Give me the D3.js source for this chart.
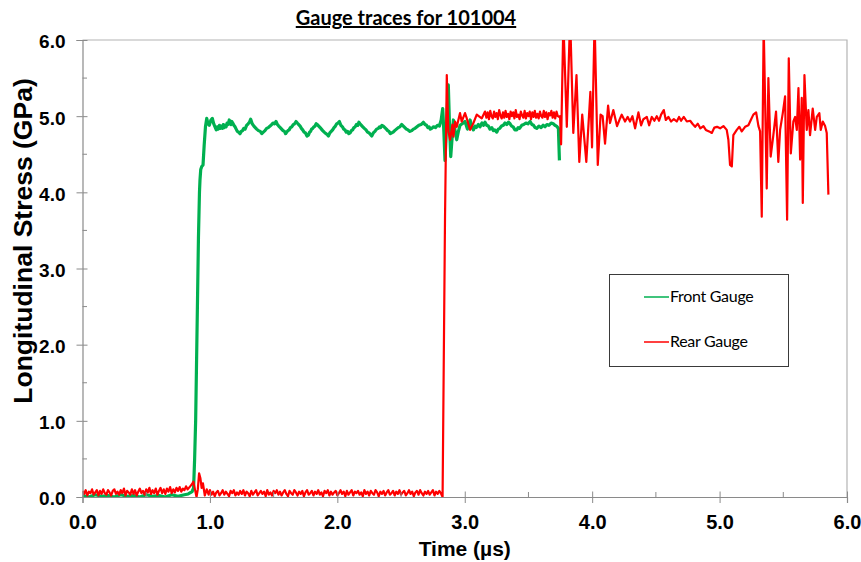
<!DOCTYPE html>
<html>
<head>
<meta charset="utf-8">
<script src="https://cdn.jsdelivr.net/npm/d3@7"></script>
<style>
  body { margin: 0; background: #ffffff; }
</style>
</head>
<body>
<svg id="chart" width="861" height="562"></svg>
<script>
// Axis ticks (GPa and microseconds)
const xTicks = [0, 1, 2, 3, 4, 5, 6];
const yTicks = [0, 1, 2, 3, 4, 5, 6];
const xMinorTicks = [0.5, 1.5, 2.5, 3.5, 4.5, 5.5];
const yMinorTicks = [0.5, 1.5, 2.5, 3.5, 4.5, 5.5];

const seriesNames = ["Front Gauge", "Rear Gauge"];
const seriesColors = ["#00b050", "#ff0000"];

// Front gauge: [time (µs), longitudinal stress (GPa)]
const frontGauge = [
  [0.00,0.02],[0.05,0.00],[0.10,0.03],[0.15,0.01],[0.20,0.02],[0.25,0.00],[0.30,0.03],[0.35,0.01],
  [0.40,0.02],[0.45,0.00],[0.50,0.03],[0.55,0.01],[0.60,0.02],[0.65,0.00],[0.70,0.03],[0.75,0.01],
  [0.80,0.03],[0.83,0.04],[0.86,0.07],[0.872,0.12],[0.880,0.50],[0.888,1.00],[0.900,2.30],[0.910,3.40],
  [0.918,4.00],[0.922,4.16],[0.928,4.30],[0.936,4.34],[0.946,4.36],[0.955,4.62],[0.965,4.86],[0.975,4.97],
  [0.985,4.90],[0.995,4.88],[1.008,4.95],[1.019,4.97],[1.030,4.90],[1.040,4.86],[1.050,4.82],[1.058,4.86],
  [1.066,4.83],[1.075,4.88],[1.084,4.84],[1.092,4.87],[1.100,4.84],[1.105,4.89],[1.112,4.85],[1.119,4.88],
  [1.127,4.86],[1.135,4.91],[1.143,4.89],[1.152,4.95],[1.158,4.91],[1.165,4.89],[1.172,4.93],[1.179,4.91],
  [1.188,4.88],[1.197,4.86],[1.206,4.83],[1.215,4.80],[1.225,4.79],[1.236,4.77],[1.246,4.80],[1.256,4.81],
  [1.266,4.84],[1.276,4.83],[1.288,4.88],[1.300,4.90],[1.310,4.92],[1.320,4.96],[1.332,4.90],[1.345,4.87],
  [1.356,4.85],[1.367,4.83],[1.381,4.81],[1.395,4.80],[1.407,4.77],[1.419,4.79],[1.432,4.81],[1.445,4.84],
  [1.458,4.85],[1.472,4.87],[1.484,4.89],[1.495,4.91],[1.507,4.90],[1.519,4.93],[1.530,4.89],[1.540,4.87],
  [1.552,4.85],[1.563,4.83],[1.574,4.81],[1.585,4.80],[1.594,4.77],[1.603,4.79],[1.612,4.81],[1.622,4.82],
  [1.632,4.85],[1.642,4.86],[1.654,4.89],[1.665,4.90],[1.676,4.93],[1.686,4.91],[1.697,4.89],[1.708,4.87],
  [1.718,4.84],[1.728,4.82],[1.739,4.79],[1.750,4.78],[1.762,4.74],[1.773,4.75],[1.782,4.79],[1.790,4.80],
  [1.798,4.83],[1.807,4.84],[1.816,4.86],[1.825,4.87],[1.834,4.90],[1.843,4.89],[1.854,4.87],[1.865,4.85],
  [1.875,4.83],[1.885,4.81],[1.897,4.79],[1.910,4.77],[1.920,4.76],[1.930,4.74],[1.941,4.78],[1.952,4.80],
  [1.963,4.82],[1.974,4.85],[1.985,4.87],[1.995,4.90],[2.005,4.91],[2.016,4.93],[2.028,4.88],[2.040,4.86],
  [2.050,4.83],[2.060,4.82],[2.070,4.79],[2.080,4.80],[2.090,4.77],[2.100,4.78],[2.110,4.81],[2.120,4.82],
  [2.130,4.85],[2.140,4.86],[2.150,4.89],[2.160,4.88],[2.169,4.92],[2.178,4.90],[2.189,4.88],[2.200,4.86],
  [2.212,4.84],[2.225,4.82],[2.237,4.79],[2.250,4.78],[2.260,4.76],[2.270,4.74],[2.282,4.78],[2.295,4.80],
  [2.308,4.83],[2.322,4.84],[2.331,4.86],[2.340,4.85],[2.350,4.88],[2.361,4.87],[2.373,4.85],[2.385,4.83],
  [2.395,4.81],[2.405,4.80],[2.416,4.77],[2.427,4.78],[2.438,4.79],[2.450,4.81],[2.464,4.83],[2.478,4.85],
  [2.491,4.86],[2.505,4.89],[2.518,4.87],[2.530,4.85],[2.542,4.83],[2.555,4.82],[2.570,4.80],[2.584,4.81],
  [2.597,4.83],[2.610,4.84],[2.625,4.86],[2.640,4.88],[2.657,4.89],[2.675,4.92],[2.688,4.89],[2.700,4.88],
  [2.710,4.85],[2.720,4.86],[2.730,4.83],[2.741,4.84],[2.755,4.86],[2.770,4.85],[2.786,4.88],[2.801,4.87],
  [2.815,4.95],[2.827,5.10],[2.836,4.80],[2.845,4.42],[2.858,4.90],[2.871,5.41],[2.880,4.90],[2.890,4.47],
  [2.911,4.95],[2.925,4.80],[2.937,4.69],[2.950,4.80],[2.963,4.88],[2.980,4.90],[3.002,4.93],[3.021,4.83],
  [3.042,4.95],[3.055,4.86],[3.068,4.82],[3.080,4.87],[3.090,4.85],[3.107,4.89],[3.120,4.86],[3.135,4.91],
  [3.147,4.88],[3.159,4.92],[3.172,4.88],[3.185,4.87],[3.198,4.83],[3.212,4.85],[3.224,4.81],[3.235,4.82],
  [3.251,4.79],[3.263,4.83],[3.275,4.84],[3.289,4.87],[3.303,4.88],[3.316,4.91],[3.330,4.89],[3.343,4.92],
  [3.356,4.90],[3.368,4.87],[3.380,4.86],[3.394,4.82],[3.408,4.82],[3.419,4.85],[3.430,4.84],[3.447,4.88],
  [3.463,4.89],[3.480,4.91],[3.496,4.90],[3.513,4.93],[3.527,4.89],[3.540,4.88],[3.552,4.85],[3.565,4.84],
  [3.582,4.87],[3.600,4.85],[3.615,4.88],[3.630,4.86],[3.645,4.89],[3.660,4.88],[3.678,4.91],[3.695,4.90],
  [3.708,4.88],[3.720,4.87],[3.735,4.84],[3.743,4.42]
];

// Rear gauge, regularly sampled noisy stretches (values in GPa)
const rearSampleStep = 0.0125;
const rearPreShot = [ // from 0.000 µs
  0.08,0.04,0.09,0.02,0.07,0.05,0.10,0.03,0.06,0.09,0.02,0.08,0.04,0.10,0.05,0.03,0.09,0.06,0.02,0.08,
  0.10,0.04,0.07,0.03,0.09,0.05,0.11,0.02,0.08,0.06,0.03,0.10,0.04,0.09,0.02,0.07,0.11,0.05,0.08,0.03,
  0.10,0.06,0.12,0.04,0.09,0.05,0.11,0.03,0.08,0.12,0.05,0.10,0.04,0.11,0.07,0.13,0.05,0.10,0.06,0.12,
  0.08,0.13,0.07,0.11,0.09,0.14
];
const rearQuiet = [ // from 1.000 µs
  0.09,0.03,0.07,0.01,0.06,0.08,0.02,0.05,0.09,0.03,0.07,0.04,0.01,0.08,0.05,0.09,0.02,0.06,0.03,0.08,
  0.04,0.09,0.02,0.07,0.05,0.01,0.08,0.03,0.06,0.09,0.02,0.05,0.08,0.04,0.07,0.01,0.09,0.03,0.06,0.02,
  0.08,0.05,0.09,0.03,0.07,0.02,0.06,0.09,0.04,0.01,0.08,0.05,0.03,0.09,0.06,0.02,0.07,0.04,0.08,0.01,
  0.06,0.09,0.03,0.05,0.08,0.02,0.07,0.04,0.09,0.03,0.06,0.01,0.08,0.05,0.09,0.02,0.07,0.03,0.06,0.08,
  0.02,0.05,0.09,0.04,0.07,0.01,0.08,0.03,0.06,0.09,0.02,0.07,0.05,0.08,0.03,0.06,0.01,0.09,0.04,0.07,
  0.02,0.08,0.05,0.03,0.09,0.06,0.01,0.07,0.04,0.08,0.02,0.06,0.09,0.03,0.05,0.08,0.02,0.07,0.04,0.09,
  0.03,0.06,0.08,0.02,0.05,0.09,0.04,0.07,0.01,0.06,0.08,0.03,0.09,0.05,0.02,0.07,0.04,0.08,0.03,0.06,
  0.09,0.02,0.07,0.04,0.08,0.05
];
const rearPlateauStep = 0.01;
const rearPlateau = [ // from 3.170 µs
  4.98,5.05,4.96,5.07,5.00,4.97,5.06,4.99,5.04,4.96,5.08,5.01,4.97,5.05,4.98,5.07,4.99,5.03,4.96,5.06,
  5.00,5.05,4.97,5.08,4.99,5.02,4.96,5.06,5.01,4.98,5.07,4.97,5.04,5.00,5.06,4.96,5.05,4.99,5.07,4.98,
  5.03,4.97,5.06,5.00,4.98,5.07,4.99,5.05,4.96,5.04,5.01,5.07,4.98,5.05,4.97,5.06,5.00,4.99
];

// Rear gauge, individually read features: [time (µs), stress (GPa)]
const rearShotArrival = [
  [0.825,0.10],[0.845,0.14],[0.860,0.17],[0.870,0.20],[0.880,0.12],[0.895,0.00],[0.905,0.10],[0.915,0.31],
  [0.925,0.25],[0.935,0.12],[0.945,0.18],[0.960,0.02],[0.975,0.10],[0.990,0.03]
];
const rearShock = [
  [2.826,0.00],[2.845,3.64],[2.859,5.54],[2.866,5.10],[2.872,4.80],[2.885,4.69],[2.903,4.89],[2.911,4.73],
  [2.924,4.93],[2.937,4.86],[2.963,5.04],[2.976,4.93],[3.002,5.04],[3.016,4.97],[3.042,4.82],[3.068,4.91],
  [3.094,5.02],[3.133,4.97],[3.159,5.06]
];
const rearRelease = [
  [3.748,5.00],[3.756,4.63],[3.774,6.25],[3.801,4.86],[3.827,6.30],[3.852,4.78],[3.877,5.54],[3.899,4.40],
  [3.922,5.02],[3.954,4.40],[3.986,5.32],[3.999,4.59],[4.019,6.25],[4.044,4.36],[4.066,5.02],[4.082,5.00],
  [4.101,4.64],[4.125,5.14],[4.140,4.91],[4.166,5.08],[4.195,4.87],[4.219,4.97],[4.232,5.02],[4.258,4.93],
  [4.279,4.99],[4.297,4.93],[4.316,5.00],[4.337,4.84],[4.363,5.05],[4.384,4.88],[4.402,4.96],[4.429,4.99],
  [4.447,4.88],[4.468,4.99],[4.488,4.94],[4.507,5.00],[4.525,4.94],[4.541,5.02],[4.562,5.08],[4.578,4.95],
  [4.598,4.99],[4.619,4.93],[4.641,4.96],[4.664,4.93],[4.682,4.99],[4.698,4.94],[4.719,4.99],[4.743,4.93],
  [4.769,4.94],[4.787,4.90],[4.808,4.86],[4.829,4.90],[4.849,4.84],[4.873,4.87],[4.892,4.82],[4.918,4.80],
  [4.939,4.78],[4.959,4.85],[4.980,4.86],[5.004,4.84],[5.030,4.87],[5.056,4.82],[5.069,4.69],[5.082,4.36],
  [5.096,4.34],[5.108,4.75],[5.135,4.82],[5.155,4.86],[5.174,4.80],[5.200,4.86],[5.226,4.88],[5.245,4.95],
  [5.265,5.02],[5.287,5.05],[5.305,4.87],[5.318,4.80],[5.331,3.68],[5.346,6.20],[5.370,4.05],[5.383,5.50],
  [5.401,4.47],[5.422,4.75],[5.443,5.06],[5.461,4.40],[5.475,4.82],[5.496,5.04],[5.514,5.26],[5.530,3.64],
  [5.543,5.76],[5.559,4.51],[5.579,4.93],[5.593,4.99],[5.606,4.82],[5.619,5.37],[5.632,4.43],[5.645,5.24],
  [5.653,3.86],[5.666,5.54],[5.684,4.82],[5.697,5.08],[5.710,4.75],[5.731,5.10],[5.750,4.82],[5.763,4.99],
  [5.783,5.04],[5.794,4.82],[5.810,4.93],[5.828,4.87],[5.841,4.78],[5.854,3.97]
];

// Attach sample times to a regularly sampled record
const sampled = (t0, step, values) => values.map((v, i) => [t0 + i * step, v]);

const rearGauge = [].concat(
  sampled(0, rearSampleStep, rearPreShot),
  rearShotArrival,
  sampled(1.0, rearSampleStep, rearQuiet),
  rearShock,
  sampled(3.17, rearPlateauStep, rearPlateau),
  rearRelease
);

const svg = d3.select("#chart");
const plotLeft = 82.5, plotRight = 847, plotTop = 40, plotBottom = 497;
const sansBold = "'Liberation Sans', Arial, sans-serif";
const calibriLike = "Lato, 'Open Sans', sans-serif";

const x = d3.scaleLinear().domain([0, 6]).range([plotLeft, plotRight]);
const y = d3.scaleLinear().domain([0, 6]).range([plotBottom, plotTop]);

const axisGrey = "#8a8a8a";

// Plot-area frame (top and right edges)
svg.append("path")
  .attr("d", `M${plotLeft},${plotTop}H${plotRight}V${plotBottom}`)
  .attr("fill", "none")
  .attr("stroke", "#b4b4b4")
  .attr("stroke-width", 1.2);

// Clip traces to the plot area
svg.append("clipPath").attr("id", "plot-clip")
  .append("rect")
  .attr("x", plotLeft).attr("y", plotTop)
  .attr("width", plotRight - plotLeft).attr("height", plotBottom - plotTop);

const line = d3.line().x(d => x(d[0])).y(d => y(d[1]));

const traces = svg.append("g").attr("clip-path", "url(#plot-clip)");
traces.append("path")
  .datum(frontGauge)
  .attr("d", line)
  .attr("fill", "none")
  .attr("stroke", seriesColors[0])
  .attr("stroke-width", 3.2)
  .attr("stroke-linejoin", "round");
traces.append("path")
  .datum(rearGauge)
  .attr("d", line)
  .attr("fill", "none")
  .attr("stroke", seriesColors[1])
  .attr("stroke-width", 2.2)
  .attr("stroke-linejoin", "round");

// Y axis
const yAxis = svg.append("g")
  .attr("transform", `translate(${plotLeft},0)`)
  .call(d3.axisLeft(y).tickValues(yTicks).tickSize(6).tickPadding(11)
    .tickFormat(d3.format(".1f")));
yAxis.select(".domain").attr("stroke", axisGrey).attr("stroke-width", 1.2);
yAxis.selectAll(".tick line").attr("stroke", axisGrey).attr("x2", -6).clone().attr("x2", 5);
yAxis.selectAll(".tick text")
  .style("font-family", sansBold)
  .attr("font-size", 19).attr("font-weight", "bold").attr("fill", "#000")
  .attr("dy", "0.42em");
yAxis.selectAll(".minor").data(yMinorTicks).enter().append("line")
  .attr("class", "minor")
  .attr("x1", 0).attr("x2", 4.5)
  .attr("y1", d => y(d)).attr("y2", d => y(d))
  .attr("stroke", axisGrey);

// X axis
const xAxis = svg.append("g")
  .attr("transform", `translate(0,${plotBottom})`)
  .call(d3.axisBottom(x).tickValues(xTicks).tickSize(6).tickPadding(12)
    .tickFormat(d3.format(".1f")));
xAxis.select(".domain").attr("stroke", axisGrey).attr("stroke-width", 1.2);
xAxis.selectAll(".tick line").attr("stroke", axisGrey).clone().attr("y2", -5.5);
xAxis.selectAll(".tick text")
  .style("font-family", sansBold)
  .attr("font-size", 20).attr("font-weight", "bold").attr("fill", "#000");
xAxis.selectAll(".minor").data(xMinorTicks).enter().append("line")
  .attr("class", "minor")
  .attr("y1", 0).attr("y2", -5)
  .attr("x1", d => x(d)).attr("x2", d => x(d))
  .attr("stroke", axisGrey);

// Axis titles
svg.append("text")
  .attr("x", (plotLeft + plotRight) / 2).attr("y", 556)
  .attr("text-anchor", "middle")
  .style("font-family", sansBold)
  .attr("font-size", 21).attr("font-weight", "bold")
  .text("Time (µs)");
svg.append("text")
  .attr("transform", "translate(32,241) rotate(-90)")
  .attr("text-anchor", "middle")
  .style("font-family", sansBold)
  .attr("font-size", 26.5).attr("font-weight", "bold")
  .text("Longitudinal Stress (GPa)");

// Chart title
svg.append("text")
  .attr("x", 406).attr("y", 25)
  .attr("text-anchor", "middle")
  .style("font-family", calibriLike)
  .attr("font-size", 20).attr("font-weight", "bold")
  .attr("text-decoration", "underline")
  .text("Gauge traces for 101004");

// Legend
const legend = svg.append("g");
legend.append("rect")
  .attr("x", 609.5).attr("y", 274.5).attr("width", 179).attr("height", 92)
  .attr("fill", "#fff").attr("stroke", "#3a3a3a").attr("stroke-width", 1);
const legendRows = [297, 342];
seriesNames.forEach((name, i) => {
  legend.append("line")
    .attr("x1", 644).attr("x2", 669)
    .attr("y1", legendRows[i]).attr("y2", legendRows[i])
    .attr("stroke", seriesColors[i]).attr("stroke-width", 1.5);
  legend.append("text")
    .attr("x", 670).attr("y", legendRows[i] + 5)
    .style("font-family", calibriLike)
    .attr("font-size", 16)
    .attr("letter-spacing", -0.3)
    .text(name);
});
</script>
</body>
</html>
